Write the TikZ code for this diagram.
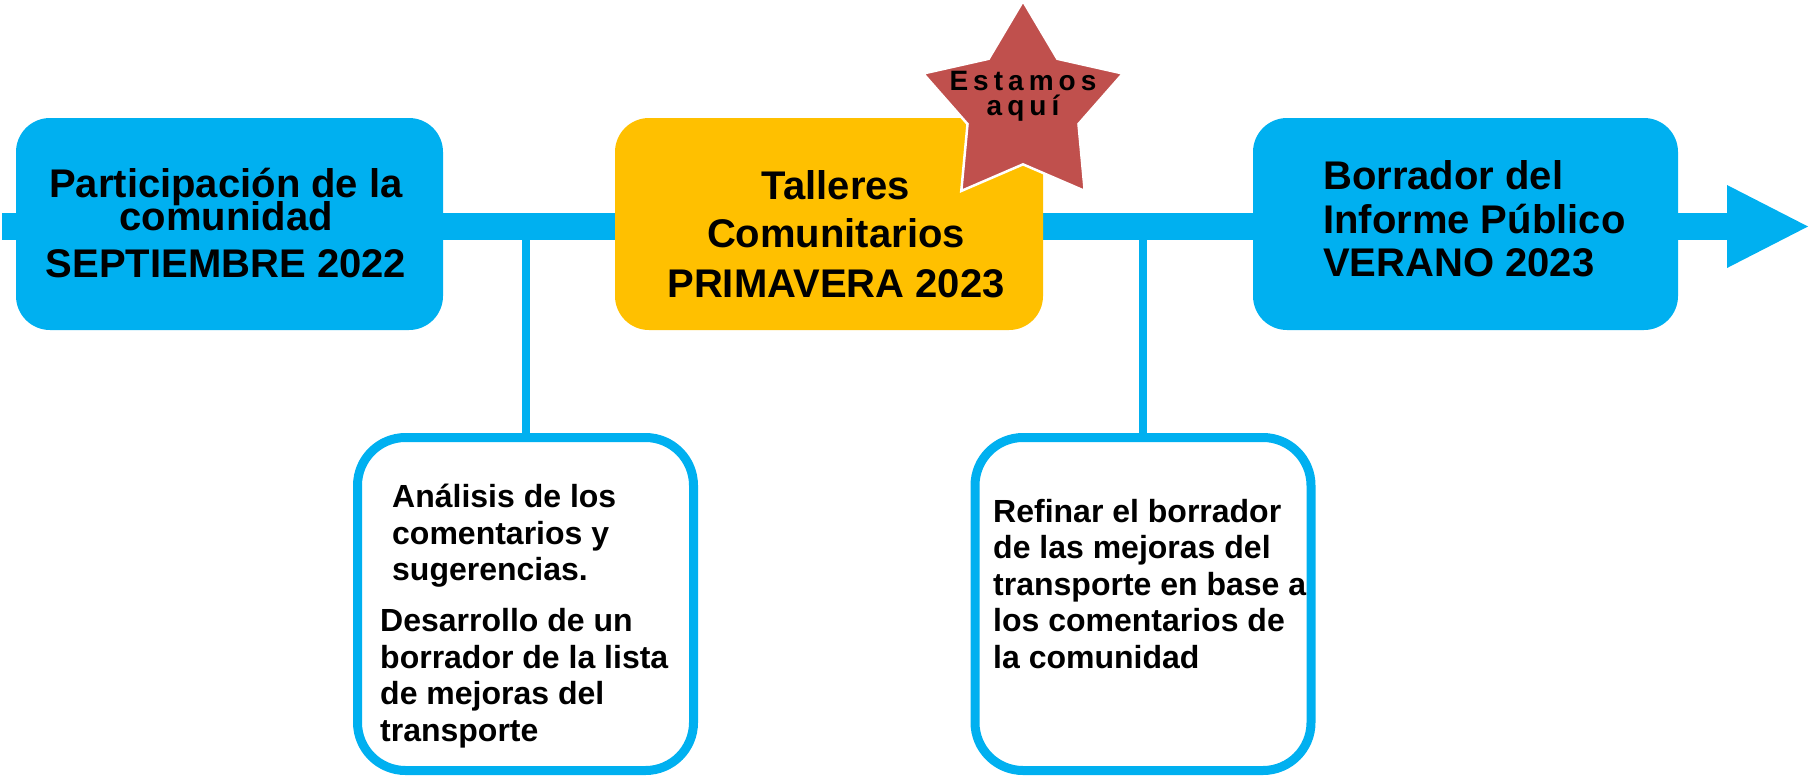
\documentclass[tikz,border=0pt]{standalone}
\usepackage{fontspec}
\setmainfont{Liberation Sans}
\usetikzlibrary{shapes.geometric}
\begin{document}
\begin{tikzpicture}[x=1pt,y=-1pt,
  phase/.style={rectangle,rounded corners=34pt,minimum height=212pt,inner sep=0pt},
  task/.style={rectangle,draw=skyblue,line width=9pt,fill=white,rounded corners=48pt,
    minimum width=336pt,minimum height=333pt,inner sep=0pt},
  stem/.style={draw=skyblue,line width=8pt},
  bigtext/.style={inner sep=0pt,font=\bfseries\fontsize{40}{48}\selectfont},
  smalltext/.style={inner sep=0pt,align=left,font=\bfseries\fontsize{32}{36.5}\selectfont}]
  \definecolor{skyblue}{HTML}{00B0F0}
  \definecolor{amber}{HTML}{FFC000}
  \definecolor{starred}{HTML}{C0504D}
  \useasboundingbox (0,0) rectangle (1809,777);
  \coordinate (start) at (2,226.5);
  \coordinate (head) at (1727,226.5);
  \coordinate (tip) at (1808,226.5);
  \draw [skyblue,line width=27pt] (start) -- (head);
  \fill [skyblue] (1727,185) -- (tip) -- (1727,268) -- cycle;
  \node [phase,fill=skyblue,minimum width=427pt] (outreach) at (229.5,224) {};
  \node [phase,fill=amber,minimum width=428pt] (workshops) at (829,224) {};
  \node [phase,fill=skyblue,minimum width=425pt] (draft) at (1465.5,224) {};
  \node [task] (review) at (525.5,604) {};
  \node [task] (refine) at (1143,604) {};
  \draw [stem] (review.north) -- (review.north |- start);
  \draw [stem] (refine.north) -- (refine.north |- start);
  \node [bigtext,align=center] (outreach-text) at (226,223)
    {Participación de la\\[-15pt]comunidad\\[-1pt]SEPTIEMBRE 2022};
  \node [bigtext,align=center] (workshops-text) at (836,234)
    {Talleres\\Comunitarios\\[2pt]PRIMAVERA 2023};
  \node [bigtext,align=left,anchor=west,font=\bfseries\fontsize{40}{43.5}\selectfont] (draft-text) at (1323,219)
    {Borrador del\\Informe Público\\VERANO 2023};
  \node [smalltext,anchor=north west] (review-text) at (380,484)
    {\hspace*{12pt}Análisis de los\\\hspace*{12pt}comentarios y\\\hspace*{12pt}sugerencias.\\[14.5pt]Desarrollo de un\\borrador de la lista\\de mejoras del\\transporte};
  \node [smalltext,anchor=north west] (refine-text) at (993,499)
    {Refinar el borrador\\de las mejoras del\\transporte en base a\\los comentarios de\\la comunidad};
  \node [star,star points=5,star point ratio=1.8,minimum size=210pt,inner sep=0pt,
    fill=starred,draw=white,line width=2.5pt] (here) at (1023,106) {};
  \node [inner sep=0pt,align=center,font=\bfseries\fontsize{28}{25}\selectfont\addfontfeature{LetterSpace=18}]
    (here-text) at (here.center |- 0,96) {Estamos\\aquí};
\end{tikzpicture}
\end{document}
